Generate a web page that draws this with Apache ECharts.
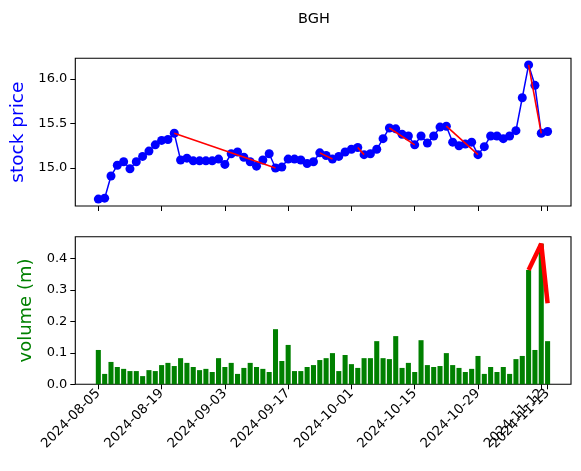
<!DOCTYPE html>
<html><head><meta charset="utf-8">
<script src="https://cdn.jsdelivr.net/npm/echarts@6/dist/echarts.min.js"></script>
<style>html,body{margin:0;padding:0;background:#fff}#c{width:581px;height:471px}</style>
</head><body><div id="c"></div>
<script>
const dates = [
"2024-08-05","2024-08-06","2024-08-07","2024-08-08","2024-08-09","2024-08-12","2024-08-13","2024-08-14","2024-08-15","2024-08-16",
"2024-08-19","2024-08-20","2024-08-21","2024-08-22","2024-08-23","2024-08-26","2024-08-27","2024-08-28","2024-08-29","2024-08-30",
"2024-09-03","2024-09-04","2024-09-05","2024-09-06","2024-09-09","2024-09-10","2024-09-11","2024-09-12","2024-09-13","2024-09-16",
"2024-09-17","2024-09-18","2024-09-19","2024-09-20","2024-09-23","2024-09-24","2024-09-25","2024-09-26","2024-09-27","2024-09-30",
"2024-10-01","2024-10-02","2024-10-03","2024-10-04","2024-10-07","2024-10-08","2024-10-09","2024-10-10","2024-10-11","2024-10-14",
"2024-10-15","2024-10-16","2024-10-17","2024-10-18","2024-10-21","2024-10-22","2024-10-23","2024-10-24","2024-10-25","2024-10-28",
"2024-10-29","2024-10-30","2024-10-31","2024-11-01","2024-11-04","2024-11-05","2024-11-06","2024-11-07","2024-11-08","2024-11-11",
"2024-11-12","2024-11-13"];
const prices = [
14.65,14.66,14.91,15.03,15.07,14.99,15.07,15.13,15.19,15.26,
15.31,15.32,15.39,15.09,15.11,15.08,15.08,15.08,15.08,15.10,
15.04,15.16,15.18,15.12,15.07,15.02,15.09,15.16,15.00,15.01,
15.10,15.10,15.09,15.05,15.07,15.17,15.14,15.10,15.13,15.18,
15.21,15.23,15.15,15.16,15.21,15.33,15.45,15.44,15.38,15.36,
15.26,15.36,15.28,15.36,15.46,15.47,15.29,15.25,15.27,15.29,
15.15,15.24,15.36,15.36,15.33,15.36,15.42,15.79,16.16,15.93,
15.39,15.41];
const volumes = [
0.109,0.033,0.071,0.055,0.049,0.042,0.042,0.026,0.045,0.042,
0.061,0.068,0.058,0.083,0.068,0.055,0.045,0.049,0.039,0.083,
0.055,0.068,0.033,0.052,0.068,0.055,0.049,0.039,0.175,0.074,
0.125,0.042,0.042,0.055,0.061,0.077,0.083,0.099,0.042,0.093,
0.064,0.052,0.083,0.083,0.137,0.083,0.080,0.153,0.052,0.068,
0.039,0.140,0.061,0.055,0.058,0.099,0.061,0.052,0.039,0.049,
0.090,0.033,0.055,0.039,0.055,0.033,0.080,0.090,0.363,0.109,
0.446,0.137];
const tickIdx = [0,10,20,30,40,50,60,70];
const lastTickIdx = [71];
const priceTicks = [15.0,15.5,16.0];
const volTicks = [0,0.1,0.2,0.3,0.4];
const redSegments = [[12,28],[35,37],[41,42],[46,50],[55,60],[68,70]];
const redVolX = [68,70,71];
const redVolY = [0.363,0.446,0.257];

const FONT = 'DejaVu Sans';
const chart = echarts.init(document.getElementById('c'), null, {renderer:'canvas'});
const gridL = 75.3, gridW = 495.7;
function xAxisCfg(gi, showLabels, ticks){
  return {
    type:'value', gridIndex:gi, min:-3.64, max:74.7, position:'bottom',
    axisLine:{show:false, onZero:false},
    splitLine:{show:false},
    axisTick:{show:true, length:5, lineStyle:{color:'#000', width:1}, customValues:ticks},
    axisLabel:{show:showLabels, customValues:ticks, rotate:45, margin:7, color:'#000',
      hideOverlap:false, showMinLabel:true, showMaxLabel:true,
      fontFamily:FONT, fontSize:13.3, formatter:v=>dates[Math.round(v)]}
  };
}
const series = [];
series.push({
  type:'line', xAxisIndex:0, yAxisIndex:0,
  data: prices.map((v,i)=>[i,v]),
  symbol:'circle', symbolSize:9, showSymbol:true,
  lineStyle:{color:'#0000ff', width:1.5},
  itemStyle:{color:'#0000ff'},
  silent:true, animation:false, z:2
});
redSegments.forEach(([a,b])=>{
  series.push({
    type:'line', xAxisIndex:0, yAxisIndex:0,
    data:[[a,prices[a]],[b,prices[b]]],
    symbol:'none', lineStyle:{color:'#ff0000', width:1.6},
    silent:true, animation:false, z:3
  });
});
series.push({
  type:'bar', xAxisIndex:1, yAxisIndex:1,
  data: volumes.map((v,i)=>[i,v]),
  barWidth:5.06, itemStyle:{color:'#008000'},
  silent:true, animation:false, z:2
});
series.push({
  type:'line', xAxisIndex:1, yAxisIndex:1,
  data: redVolX.map((x,k)=>[x,redVolY[k]]),
  symbol:'none', lineStyle:{color:'#ff0000', width:4.5},
  silent:true, animation:false, z:3
});
chart.setOption({
  animation:false,
  backgroundColor:'#fff',
  title:{text:'BGH', left:293, top:7, textStyle:{fontFamily:FONT, fontSize:14.5, fontWeight:'normal', color:'#000'}},
  grid:[
    {left:gridL, top:58.3, width:gridW, height:147.7, show:true, borderColor:'#000', borderWidth:1.1, containLabel:false},
    {left:gridL, top:236.7, width:gridW, height:147.6, show:true, borderColor:'#000', borderWidth:1.1, containLabel:false}
  ],
  xAxis:[
    xAxisCfg(0,false,tickIdx.concat(lastTickIdx)),
    xAxisCfg(1,true,tickIdx),
    Object.assign(xAxisCfg(1,true,lastTickIdx), {offset:0})
  ],
  yAxis:[
    {type:'value', gridIndex:0, min:14.572, max:16.234,
     name:'stock price', nameLocation:'middle', nameGap:23,
     nameTextStyle:{color:'#0000ff', fontFamily:FONT, fontSize:18.5},
     axisLine:{show:false, onZero:false}, splitLine:{show:false},
     axisTick:{show:true, length:5, lineStyle:{color:'#000'}, customValues:priceTicks},
     axisLabel:{customValues:priceTicks, margin:8, color:'#000', fontFamily:FONT, fontSize:13, formatter:v=>v.toFixed(1)}},
    {type:'value', gridIndex:1, min:0, max:0.4686,
     name:'volume (m)', nameLocation:'middle', nameGap:15,
     nameTextStyle:{color:'#008000', fontFamily:FONT, fontSize:18},
     axisLine:{show:false, onZero:false}, splitLine:{show:false},
     axisTick:{show:true, length:5, lineStyle:{color:'#000'}, customValues:volTicks},
     axisLabel:{customValues:volTicks, margin:8, color:'#000', fontFamily:FONT, fontSize:13, formatter:v=>v.toFixed(1)}}
  ],
  series:series
});
</script></body></html>
